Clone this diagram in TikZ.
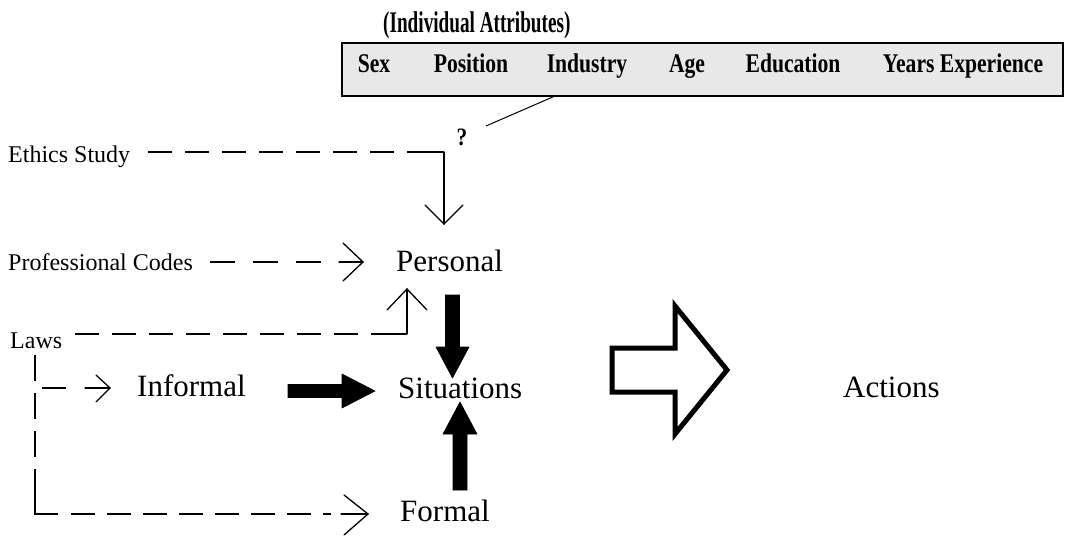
\documentclass[tikz,border=0pt]{standalone}
\usepackage{graphicx}
\usepackage{fontspec}
\setmainfont{Liberation Serif}
\begin{document}
\begin{tikzpicture}[x=1pt,y=-1pt,
  lbl/.style={inner sep=0pt,font=\fontsize{24}{28}\selectfont},
  big/.style={inner sep=0pt,font=\fontsize{31}{36}\selectfont},
  attr/.style={inner sep=0pt,font=\fontsize{27}{30}\selectfont\bfseries},
  ttl/.style={inner sep=0pt,font=\fontsize{30}{34}\selectfont\bfseries},
  dsh/.style={line width=2.4pt,dash pattern=on 24pt off 13pt},
  thinline/.style={line width=1.3pt,line cap=round,line join=miter},
  solidarrow/.style={fill=black,draw=black,line width=0.6pt},
  hollowarrow/.style={draw=black,fill=white,line width=5pt,line join=miter}]
\useasboundingbox (0,0) rectangle (1078,538);

% title and attribute box
\node[ttl,anchor=base west] (title) at (383,32) {\scalebox{0.64}[1]{(Individual Attributes)}};
\node[draw=black,fill=black!9,line width=1.5pt,minimum width=721pt,minimum height=53pt,inner sep=0pt,anchor=north west] (box) at (341,42) {};
\node[attr,anchor=base] (sex) at (374,72) {\scalebox{0.8}[1]{Sex}};
\node[attr,anchor=base] (pos) at (471,72) {\scalebox{0.8}[1]{Position}};
\node[attr,anchor=base] (ind) at (587,72) {\scalebox{0.8}[1]{Industry}};
\node[attr,anchor=base] (age) at (687,72) {\scalebox{0.8}[1]{Age}};
\node[attr,anchor=base] (edu) at (793,72) {\scalebox{0.8}[1]{Education}};
\node[attr,anchor=base] (yrs) at (963,72) {\scalebox{0.8}[1]{Years Experience}};

\node[inner sep=0pt,font=\fontsize{25}{28}\selectfont\bfseries] (q) at (462,137) {\scalebox{0.85}[1]{?}};
\coordinate (b1) at (555,96);
\coordinate (b2) at (486,126);
\draw[line width=1pt] (b1) -- (b2);

% left labels
\node[lbl,anchor=base west] (ethics) at (8,162) {Ethics Study};
\node[lbl,anchor=base west] (prof) at (8,270) {Professional Codes};
\node[lbl,anchor=base west] (laws) at (10,348) {Laws};

% centre labels
\node[big,anchor=base west] (personal) at (396,271) {Personal};
\node[big,anchor=base west] (informal) at (137,396) {Informal};
\node[big,anchor=base west] (situations) at (398,398) {Situations};
\node[big,anchor=base west] (formal) at (400,521) {Formal};
\node[big,anchor=base west] (actions) at (843,397) {Actions};

% Ethics Study connector
\coordinate (e1) at (148,152);
\coordinate (e2) at (420,152);
\coordinate (e3) at (444,152);
\coordinate (e4) at (444,224);
\draw[dsh] (e1) -- (e2);
\draw[line width=2.4pt] (e2) -- (e3);
\draw[thinline] (e3) -- (e4);
\draw[thinline] (425,205) -- (e4) -- (463,205);

% Professional Codes connector
\coordinate (p1) at (210,262);
\coordinate (p2) at (321,262);
\coordinate (p3) at (339,262);
\coordinate (p4) at (363,262);
\draw[dsh,dash pattern=on 25pt off 18pt] (p1) -- (p2);
\draw[thinline] (p3) -- (p4);
\draw[thinline] (343,243) -- (p4) -- (343,281);

% Laws connector to Personal
\coordinate (l1) at (75,334);
\coordinate (l2) at (385,334);
\coordinate (l3) at (407,334);
\coordinate (l4) at (407,289);
\draw[dsh] (l1) -- (l2);
\draw[line width=2.4pt] (l2) -- (l3);
\draw[thinline] (l3) -- (l4);
\draw[thinline] (387,310) -- (l4) -- (427,310);

% Laws branch down to Informal and Formal
\coordinate (v1) at (35,355);
\coordinate (v2) at (35,490);
\coordinate (v3) at (35,514);
\coordinate (h1) at (58,514);
\coordinate (h2) at (331,514);
\coordinate (h3) at (341,514);
\coordinate (h4) at (368,514);
\draw[dsh,dash pattern=on 26pt off 12pt] (v1) -- (v2);
\draw[line width=2.4pt] (v2) -- (v3) -- (h1);
\draw[dsh,dash pattern=on 24pt off 12pt] ([xshift=13pt]h1) -- (h2);
\draw[thinline] (h3) -- (h4);
\draw[thinline] (344,495) -- (h4) -- (344,535);

\coordinate (i1) at (42,388);
\coordinate (i2) at (66,388);
\coordinate (i3) at (85,388);
\coordinate (i4) at (110,388);
\draw[line width=2.4pt] (i1) -- (i2);
\draw[thinline] (i3) -- (i4);
\draw[thinline] (96,375) -- (i4) -- (96,402);

% solid arrows into Situations
\draw[solidarrow] (445.5,295) -- (459.5,295) -- (459.5,347) -- (469,347) -- (452.5,378) -- (436,347) -- (445.5,347) -- cycle;
\draw[solidarrow] (288,384.5) -- (342,384.5) -- (342,374) -- (375,391) -- (342,408) -- (342,397.5) -- (288,397.5) -- cycle;
\draw[solidarrow] (453,490) -- (467,490) -- (467,434) -- (477,434) -- (460,402) -- (443,434) -- (453,434) -- cycle;

% hollow arrow to Actions
\draw[hollowarrow] (612,348) -- (675,348) -- (675,306) -- (727,370) -- (675,434) -- (675,392) -- (612,392) -- cycle;
\end{tikzpicture}
\end{document}
